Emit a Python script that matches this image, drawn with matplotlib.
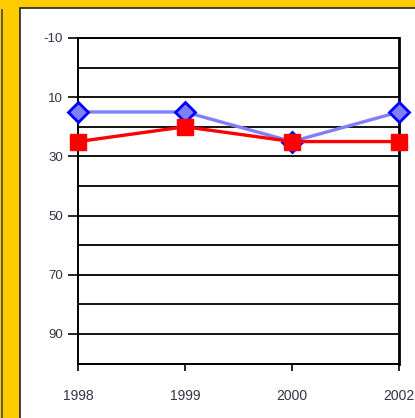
import matplotlib
matplotlib.use("Agg")
import matplotlib.pyplot as plt
from matplotlib.patches import Rectangle
from matplotlib.lines import Line2D

plt.rcParams['font.family'] = ['Liberation Sans', 'DejaVu Sans']

# data
years = ["1998", "1999", "2000", "2002"]
blue_vals = [15, 15, 25, 15]
red_vals = [25, 20, 25, 25]
y_labelled = [-10, 10, 30, 50, 70, 90]
y_grid_only = [0, 20, 40, 60, 80, 100]

W, H = 415, 418
fig = plt.figure(figsize=(W / 100, H / 100), dpi=100)
fig.patch.set_facecolor("#FFCC00")

# white panel with dark border (runs off right/bottom edge)
fig.patches.append(Rectangle((20 / W, -0.1), 1.0, (H - 8) / H + 0.1,
                             transform=fig.transFigure, facecolor="white",
                             edgecolor="#222222", linewidth=1.2, zorder=-10))
# thin dark line at the far left
fig.lines.append(Line2D([1.5 / W, 1.5 / W], [0, (H - 10) / H],
                        transform=fig.transFigure, color="#444444",
                        linewidth=1.2, zorder=-10))

ax = fig.add_axes([78 / W, 54.5 / H, (399 - 78) / W, (380 - 54.5) / H])
ax.set_zorder(5)
ax.set_facecolor("white")

x = list(range(len(years)))
ax.plot(x, blue_vals, color="#8080FF", linewidth=2.4, marker="D", markersize=10,
        markerfacecolor="#8080FF", markeredgecolor="#0000FF", markeredgewidth=2,
        clip_on=False, zorder=3)
ax.plot(x, red_vals, color="#FF0000", linewidth=2.4, marker="s", markersize=11,
        markerfacecolor="#FF0000", markeredgecolor="#FF0000",
        clip_on=False, zorder=4)

ax.set_xlim(0, len(years) - 1)
ax.set_ylim(100, -10)

ax.set_yticks(y_labelled)
ax.set_yticklabels([str(v) for v in y_labelled])
ax.set_yticks(y_grid_only, minor=True)
ax.tick_params(axis="y", which="major", length=7, width=1.2, pad=4,
               labelsize=9.5, labelcolor="#333344")
ax.tick_params(axis="y", which="minor", length=0)
ax.grid(True, axis="y", which="both", color="black", linewidth=1.3, zorder=1)

ax.set_xticks(x)
ax.set_xticklabels(years)
ax.tick_params(axis="x", length=5, width=1.2, pad=13, labelsize=10,
               labelcolor="#333344")

for s in ax.spines.values():
    s.set_color("black")
    s.set_linewidth(1.4)
ax.spines["right"].set_linewidth(2)

fig.savefig("out.png", dpi=100, facecolor=fig.get_facecolor())
